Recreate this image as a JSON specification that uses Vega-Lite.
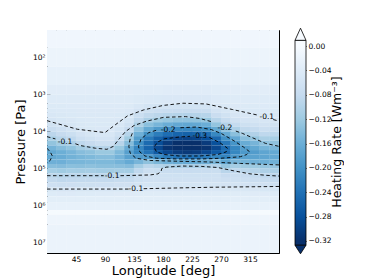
{
  "$schema": "https://vega.github.io/schema/vega-lite/v6.json",
  "padding": {"left": 13, "top": 26, "right": 0, "bottom": 0},
  "spacing": 13,
  "config": {
    "font": "DejaVu Sans",
    "view": {"stroke": null},
    "axis": {"domainColor": "black", "tickColor": "black", "labelColor": "black", "titleColor": "black", "grid": false, "titleFontWeight": "normal", "labelOverlap": false}
  },
  "datasets": {
    "grid": [
      {"y0": 1.27, "y1": 1.75, "lon": [7.5,22.5,37.5,52.5,67.5,82.5,97.5,112.5,127.5,142.5,157.5,172.5,187.5,202.5,217.5,232.5,247.5,262.5,277.5,292.5,307.5,322.5,337.5,352.5], "v": [-0.012,-0.012,-0.012,-0.012,-0.012,-0.012,-0.012,-0.012,-0.012,-0.012,-0.012,-0.012,-0.012,-0.012,-0.012,-0.012,-0.012,-0.012,-0.012,-0.012,-0.012,-0.012,-0.012,-0.012]},
      {"y0": 1.75, "y1": 2.25, "lon": [7.5,22.5,37.5,52.5,67.5,82.5,97.5,112.5,127.5,142.5,157.5,172.5,187.5,202.5,217.5,232.5,247.5,262.5,277.5,292.5,307.5,322.5,337.5,352.5], "v": [-0.018,-0.018,-0.018,-0.018,-0.018,-0.018,-0.018,-0.018,-0.018,-0.018,-0.018,-0.018,-0.018,-0.018,-0.018,-0.018,-0.018,-0.018,-0.018,-0.018,-0.018,-0.018,-0.018,-0.018]},
      {"y0": 2.25, "y1": 2.75, "lon": [7.5,22.5,37.5,52.5,67.5,82.5,97.5,112.5,127.5,142.5,157.5,172.5,187.5,202.5,217.5,232.5,247.5,262.5,277.5,292.5,307.5,322.5,337.5,352.5], "v": [-0.026,-0.026,-0.026,-0.026,-0.026,-0.026,-0.026,-0.026,-0.026,-0.026,-0.026,-0.026,-0.026,-0.026,-0.026,-0.026,-0.026,-0.026,-0.026,-0.026,-0.026,-0.026,-0.026,-0.026]},
      {"y0": 2.75, "y1": 3.0, "lon": [7.5,22.5,37.5,52.5,67.5,82.5,97.5,112.5,127.5,142.5,157.5,172.5,187.5,202.5,217.5,232.5,247.5,262.5,277.5,292.5,307.5,322.5,337.5,352.5], "v": [-0.034,-0.034,-0.034,-0.034,-0.034,-0.034,-0.034,-0.034,-0.034,-0.035,-0.036,-0.036,-0.037,-0.037,-0.037,-0.037,-0.037,-0.035,-0.034,-0.034,-0.034,-0.034,-0.034,-0.034]},
      {"y0": 3.0, "y1": 3.25, "lon": [7.5,22.5,37.5,52.5,67.5,82.5,97.5,112.5,127.5,142.5,157.5,172.5,187.5,202.5,217.5,232.5,247.5,262.5,277.5,292.5,307.5,322.5,337.5,352.5], "v": [-0.040,-0.040,-0.040,-0.040,-0.040,-0.040,-0.040,-0.040,-0.040,-0.043,-0.045,-0.046,-0.047,-0.047,-0.047,-0.047,-0.047,-0.042,-0.041,-0.040,-0.040,-0.040,-0.040,-0.040]},
      {"y0": 3.25, "y1": 3.375, "lon": [7.5,22.5,37.5,52.5,67.5,82.5,97.5,112.5,127.5,142.5,157.5,172.5,187.5,202.5,217.5,232.5,247.5,262.5,277.5,292.5,307.5,322.5,337.5,352.5], "v": [-0.043,-0.043,-0.042,-0.042,-0.042,-0.042,-0.042,-0.042,-0.043,-0.050,-0.056,-0.058,-0.060,-0.061,-0.061,-0.061,-0.060,-0.049,-0.046,-0.044,-0.043,-0.043,-0.042,-0.043]},
      {"y0": 3.375, "y1": 3.5, "lon": [7.5,22.5,37.5,52.5,67.5,82.5,97.5,112.5,127.5,142.5,157.5,172.5,187.5,202.5,217.5,232.5,247.5,262.5,277.5,292.5,307.5,322.5,337.5,352.5], "v": [-0.046,-0.045,-0.045,-0.044,-0.044,-0.044,-0.044,-0.044,-0.047,-0.059,-0.068,-0.072,-0.075,-0.077,-0.078,-0.077,-0.075,-0.059,-0.053,-0.048,-0.046,-0.046,-0.045,-0.046]},
      {"y0": 3.5, "y1": 3.625, "lon": [7.5,22.5,37.5,52.5,67.5,82.5,97.5,112.5,127.5,142.5,157.5,172.5,187.5,202.5,217.5,232.5,247.5,262.5,277.5,292.5,307.5,322.5,337.5,352.5], "v": [-0.050,-0.048,-0.046,-0.045,-0.045,-0.045,-0.045,-0.046,-0.051,-0.071,-0.085,-0.092,-0.097,-0.099,-0.100,-0.099,-0.097,-0.074,-0.063,-0.054,-0.050,-0.050,-0.048,-0.050]},
      {"y0": 3.625, "y1": 3.75, "lon": [7.5,22.5,37.5,52.5,67.5,82.5,97.5,112.5,127.5,142.5,157.5,172.5,187.5,202.5,217.5,232.5,247.5,262.5,277.5,292.5,307.5,322.5,337.5,352.5], "v": [-0.055,-0.051,-0.049,-0.046,-0.045,-0.045,-0.045,-0.047,-0.056,-0.086,-0.107,-0.118,-0.125,-0.130,-0.131,-0.130,-0.125,-0.096,-0.078,-0.064,-0.057,-0.055,-0.052,-0.055]},
      {"y0": 3.75, "y1": 3.875, "lon": [7.5,22.5,37.5,52.5,67.5,82.5,97.5,112.5,127.5,142.5,157.5,172.5,187.5,202.5,217.5,232.5,247.5,262.5,277.5,292.5,307.5,322.5,337.5,352.5], "v": [-0.063,-0.057,-0.053,-0.048,-0.046,-0.046,-0.046,-0.050,-0.065,-0.106,-0.135,-0.150,-0.161,-0.168,-0.170,-0.168,-0.161,-0.128,-0.100,-0.081,-0.068,-0.065,-0.059,-0.063]},
      {"y0": 3.875, "y1": 4.0, "lon": [7.5,22.5,37.5,52.5,67.5,82.5,97.5,112.5,127.5,142.5,157.5,172.5,187.5,202.5,217.5,232.5,247.5,262.5,277.5,292.5,307.5,322.5,337.5,352.5], "v": [-0.075,-0.067,-0.060,-0.051,-0.048,-0.047,-0.047,-0.056,-0.079,-0.131,-0.167,-0.188,-0.202,-0.211,-0.214,-0.211,-0.202,-0.167,-0.130,-0.105,-0.085,-0.081,-0.070,-0.075]},
      {"y0": 4.0, "y1": 4.125, "lon": [7.5,22.5,37.5,52.5,67.5,82.5,97.5,112.5,127.5,142.5,157.5,172.5,187.5,202.5,217.5,232.5,247.5,262.5,277.5,292.5,307.5,322.5,337.5,352.5], "v": [-0.091,-0.080,-0.071,-0.059,-0.053,-0.050,-0.050,-0.065,-0.097,-0.157,-0.200,-0.226,-0.244,-0.255,-0.259,-0.255,-0.244,-0.211,-0.166,-0.135,-0.109,-0.102,-0.087,-0.092]},
      {"y0": 4.125, "y1": 4.25, "lon": [7.5,22.5,37.5,52.5,67.5,82.5,97.5,112.5,127.5,142.5,157.5,172.5,187.5,202.5,217.5,232.5,247.5,262.5,277.5,292.5,307.5,322.5,337.5,352.5], "v": [-0.110,-0.096,-0.087,-0.070,-0.063,-0.057,-0.057,-0.078,-0.119,-0.183,-0.229,-0.259,-0.281,-0.294,-0.298,-0.294,-0.281,-0.251,-0.201,-0.168,-0.136,-0.127,-0.109,-0.111]},
      {"y0": 4.25, "y1": 4.375, "lon": [7.5,22.5,37.5,52.5,67.5,82.5,97.5,112.5,127.5,142.5,157.5,172.5,187.5,202.5,217.5,232.5,247.5,262.5,277.5,292.5,307.5,322.5,337.5,352.5], "v": [-0.129,-0.115,-0.105,-0.087,-0.079,-0.070,-0.070,-0.095,-0.140,-0.203,-0.248,-0.282,-0.306,-0.321,-0.325,-0.321,-0.306,-0.280,-0.231,-0.196,-0.163,-0.151,-0.132,-0.131]},
      {"y0": 4.375, "y1": 4.5, "lon": [7.5,22.5,37.5,52.5,67.5,82.5,97.5,112.5,127.5,142.5,157.5,172.5,187.5,202.5,217.5,232.5,247.5,262.5,277.5,292.5,307.5,322.5,337.5,352.5], "v": [-0.153,-0.140,-0.130,-0.114,-0.107,-0.096,-0.096,-0.122,-0.164,-0.214,-0.255,-0.290,-0.315,-0.330,-0.335,-0.330,-0.315,-0.290,-0.248,-0.213,-0.183,-0.169,-0.152,-0.148]},
      {"y0": 4.5, "y1": 4.625, "lon": [7.5,22.5,37.5,52.5,67.5,82.5,97.5,112.5,127.5,142.5,157.5,172.5,187.5,202.5,217.5,232.5,247.5,262.5,277.5,292.5,307.5,322.5,337.5,352.5], "v": [-0.169,-0.159,-0.150,-0.138,-0.133,-0.122,-0.122,-0.145,-0.180,-0.212,-0.236,-0.267,-0.290,-0.304,-0.308,-0.304,-0.290,-0.267,-0.246,-0.212,-0.190,-0.185,-0.173,-0.167]},
      {"y0": 4.625, "y1": 4.75, "lon": [7.5,22.5,37.5,52.5,67.5,82.5,97.5,112.5,127.5,142.5,157.5,172.5,187.5,202.5,217.5,232.5,247.5,262.5,277.5,292.5,307.5,322.5,337.5,352.5], "v": [-0.169,-0.163,-0.155,-0.149,-0.145,-0.139,-0.139,-0.154,-0.180,-0.188,-0.187,-0.211,-0.228,-0.238,-0.241,-0.238,-0.228,-0.211,-0.217,-0.188,-0.179,-0.177,-0.173,-0.167]},
      {"y0": 4.75, "y1": 4.875, "lon": [7.5,22.5,37.5,52.5,67.5,82.5,97.5,112.5,127.5,142.5,157.5,172.5,187.5,202.5,217.5,232.5,247.5,262.5,277.5,292.5,307.5,322.5,337.5,352.5], "v": [-0.158,-0.158,-0.150,-0.149,-0.146,-0.145,-0.145,-0.153,-0.166,-0.150,-0.133,-0.147,-0.158,-0.164,-0.166,-0.164,-0.158,-0.147,-0.172,-0.150,-0.152,-0.157,-0.159,-0.156]},
      {"y0": 4.875, "y1": 5.0, "lon": [7.5,22.5,37.5,52.5,67.5,82.5,97.5,112.5,127.5,142.5,157.5,172.5,187.5,202.5,217.5,232.5,247.5,262.5,277.5,292.5,307.5,322.5,337.5,352.5], "v": [-0.138,-0.141,-0.135,-0.136,-0.133,-0.136,-0.136,-0.137,-0.141,-0.113,-0.092,-0.099,-0.104,-0.107,-0.108,-0.107,-0.104,-0.099,-0.127,-0.113,-0.119,-0.120,-0.127,-0.128]},
      {"y0": 5.0, "y1": 5.125, "lon": [7.5,22.5,37.5,52.5,67.5,82.5,97.5,112.5,127.5,142.5,157.5,172.5,187.5,202.5,217.5,232.5,247.5,262.5,277.5,292.5,307.5,322.5,337.5,352.5], "v": [-0.113,-0.118,-0.113,-0.114,-0.112,-0.115,-0.115,-0.112,-0.113,-0.086,-0.070,-0.073,-0.075,-0.076,-0.077,-0.076,-0.075,-0.073,-0.094,-0.086,-0.092,-0.097,-0.105,-0.108]},
      {"y0": 5.125, "y1": 5.25, "lon": [7.5,22.5,37.5,52.5,67.5,82.5,97.5,112.5,127.5,142.5,157.5,172.5,187.5,202.5,217.5,232.5,247.5,262.5,277.5,292.5,307.5,322.5,337.5,352.5], "v": [-0.092,-0.097,-0.094,-0.094,-0.092,-0.094,-0.094,-0.090,-0.090,-0.073,-0.064,-0.065,-0.066,-0.066,-0.066,-0.066,-0.066,-0.065,-0.077,-0.073,-0.077,-0.083,-0.088,-0.093]},
      {"y0": 5.25, "y1": 5.375, "lon": [7.5,22.5,37.5,52.5,67.5,82.5,97.5,112.5,127.5,142.5,157.5,172.5,187.5,202.5,217.5,232.5,247.5,262.5,277.5,292.5,307.5,322.5,337.5,352.5], "v": [-0.082,-0.086,-0.084,-0.083,-0.082,-0.082,-0.082,-0.078,-0.078,-0.068,-0.064,-0.064,-0.064,-0.064,-0.064,-0.064,-0.064,-0.064,-0.069,-0.068,-0.070,-0.074,-0.078,-0.082]},
      {"y0": 5.375, "y1": 5.5, "lon": [7.5,22.5,37.5,52.5,67.5,82.5,97.5,112.5,127.5,142.5,157.5,172.5,187.5,202.5,217.5,232.5,247.5,262.5,277.5,292.5,307.5,322.5,337.5,352.5], "v": [-0.067,-0.070,-0.069,-0.068,-0.068,-0.067,-0.067,-0.064,-0.064,-0.058,-0.056,-0.056,-0.056,-0.056,-0.056,-0.056,-0.056,-0.056,-0.059,-0.058,-0.059,-0.062,-0.064,-0.068]},
      {"y0": 5.5, "y1": 5.625, "lon": [7.5,22.5,37.5,52.5,67.5,82.5,97.5,112.5,127.5,142.5,157.5,172.5,187.5,202.5,217.5,232.5,247.5,262.5,277.5,292.5,307.5,322.5,337.5,352.5], "v": [-0.053,-0.055,-0.054,-0.053,-0.053,-0.052,-0.052,-0.051,-0.051,-0.048,-0.047,-0.047,-0.047,-0.047,-0.047,-0.047,-0.047,-0.047,-0.048,-0.048,-0.048,-0.049,-0.051,-0.053]},
      {"y0": 5.625, "y1": 5.75, "lon": [7.5,22.5,37.5,52.5,67.5,82.5,97.5,112.5,127.5,142.5,157.5,172.5,187.5,202.5,217.5,232.5,247.5,262.5,277.5,292.5,307.5,322.5,337.5,352.5], "v": [-0.041,-0.042,-0.042,-0.041,-0.041,-0.040,-0.040,-0.039,-0.039,-0.038,-0.038,-0.038,-0.038,-0.038,-0.038,-0.038,-0.038,-0.038,-0.038,-0.038,-0.038,-0.039,-0.039,-0.041]},
      {"y0": 5.75, "y1": 5.9, "lon": [7.5,22.5,37.5,52.5,67.5,82.5,97.5,112.5,127.5,142.5,157.5,172.5,187.5,202.5,217.5,232.5,247.5,262.5,277.5,292.5,307.5,322.5,337.5,352.5], "v": [-0.033,-0.033,-0.033,-0.033,-0.033,-0.033,-0.033,-0.033,-0.033,-0.033,-0.033,-0.033,-0.033,-0.033,-0.033,-0.033,-0.033,-0.033,-0.033,-0.033,-0.033,-0.033,-0.033,-0.033]},
      {"y0": 5.9, "y1": 6.12, "lon": [7.5,22.5,37.5,52.5,67.5,82.5,97.5,112.5,127.5,142.5,157.5,172.5,187.5,202.5,217.5,232.5,247.5,262.5,277.5,292.5,307.5,322.5,337.5,352.5], "v": [-0.025,-0.025,-0.025,-0.025,-0.025,-0.025,-0.025,-0.025,-0.025,-0.025,-0.025,-0.025,-0.025,-0.025,-0.025,-0.025,-0.025,-0.025,-0.025,-0.025,-0.025,-0.025,-0.025,-0.025]},
      {"y0": 6.12, "y1": 6.24, "lon": [7.5,22.5,37.5,52.5,67.5,82.5,97.5,112.5,127.5,142.5,157.5,172.5,187.5,202.5,217.5,232.5,247.5,262.5,277.5,292.5,307.5,322.5,337.5,352.5], "v": [-0.003,-0.003,-0.003,-0.003,-0.003,-0.003,-0.003,-0.003,-0.003,-0.003,-0.003,-0.003,-0.003,-0.003,-0.003,-0.003,-0.003,-0.003,-0.003,-0.003,-0.003,-0.003,-0.003,-0.003]},
      {"y0": 6.24, "y1": 6.5, "lon": [7.5,22.5,37.5,52.5,67.5,82.5,97.5,112.5,127.5,142.5,157.5,172.5,187.5,202.5,217.5,232.5,247.5,262.5,277.5,292.5,307.5,322.5,337.5,352.5], "v": [-0.015,-0.015,-0.015,-0.015,-0.015,-0.015,-0.015,-0.015,-0.015,-0.015,-0.015,-0.015,-0.015,-0.015,-0.015,-0.015,-0.015,-0.015,-0.015,-0.015,-0.015,-0.015,-0.015,-0.015]},
      {"y0": 6.5, "y1": 7.27, "lon": [7.5,22.5,37.5,52.5,67.5,82.5,97.5,112.5,127.5,142.5,157.5,172.5,187.5,202.5,217.5,232.5,247.5,262.5,277.5,292.5,307.5,322.5,337.5,352.5], "v": [-0.02,-0.02,-0.02,-0.02,-0.02,-0.02,-0.02,-0.02,-0.02,-0.02,-0.02,-0.02,-0.02,-0.02,-0.02,-0.02,-0.02,-0.02,-0.02,-0.02,-0.02,-0.02,-0.02,-0.02]}
    ],
    "cont": [
      {"id": "A1", "lon": [0,47,90,106,125,150,180,211,247,288,327], "lp": [3.71,3.94,4.03,3.82,3.58,3.42,3.3,3.24,3.26,3.41,3.56]},
      {"id": "A2", "lon": [351,360], "lp": [3.68,3.72]},
      {"id": "B1", "lon": [0,13], "lp": [4.14,4.2]},
      {"id": "B2", "lon": [44,52,75,93,103,112,122,135,155,181,215,237,258], "lp": [4.33,4.38,4.45,4.48,4.4,4.2,4.0,3.84,3.72,3.62,3.6,3.65,3.75]},
      {"id": "B3", "lon": [293,303,339,360], "lp": [3.99,4.05,4.32,4.4]},
      {"id": "L3", "lon": [207,232,255,270,290,305,314,310,300,270,240,200,170,152,144,142,146,158,173], "lp": [3.9,3.88,3.95,4.05,4.25,4.42,4.54,4.62,4.68,4.72,4.74,4.74,4.72,4.66,4.55,4.4,4.2,4.03,3.95]},
      {"id": "L4", "lon": [252,268,280,278,265,237,205,182,170,166,172,182,205,222], "lp": [4.16,4.3,4.45,4.55,4.62,4.66,4.66,4.62,4.55,4.42,4.28,4.2,4.15,4.13]},
      {"id": "L2", "lon": [360,300,250,200,160,138,129,127,129,133], "lp": [4.9,4.86,4.82,4.8,4.78,4.72,4.58,4.4,4.2,4.02]},
      {"id": "W1", "lon": [0,88], "lp": [5.19,5.19]},
      {"id": "W2", "lon": [114,160,172,177,178,185,210,240,265,290,315,340,360], "lp": [5.19,5.17,5.14,5.08,5.0,4.96,4.93,4.94,4.97,5.06,5.14,5.18,5.2]},
      {"id": "Z1", "lon": [0,127], "lp": [5.55,5.55]},
      {"id": "Z2", "lon": [150,200,260,360], "lp": [5.54,5.52,5.5,5.48]},
      {"id": "S", "lon": [0,5,8,5,0], "lp": [4.45,4.55,4.65,4.78,4.85]}
    ],
    "labs": [
      {"lon": 341, "lp": 3.61, "t": "-0.1"},
      {"lon": 28, "lp": 4.29, "t": "-0.1"},
      {"lon": 188, "lp": 3.95, "t": "-0.2"},
      {"lon": 237, "lp": 4.13, "t": "-0.3"},
      {"lon": 276, "lp": 3.91, "t": "-0.2"},
      {"lon": 101, "lp": 5.2, "t": "-0.1"},
      {"lon": 138, "lp": 5.56, "t": "-0.1"}
    ]
  },
  "hconcat": [
    {
      "width": 232,
      "height": 223,
      "view": {"stroke": "black", "strokeWidth": 1},
      "layer": [
        {
          "data": {"name": "grid"},
          "transform": [{"flatten": ["lon", "v"]}],
          "mark": {"type": "rect", "width": 10, "clip": true},
          "encoding": {
            "x": {"field": "lon", "type": "quantitative", "scale": {"domain": [0, 360], "nice": false, "zero": false},
                  "axis": {"values": [45, 90, 135, 180, 225, 270, 315], "tickCount": 50, "labelOverlap": false, "title": "Longitude [deg]", "titleFontSize": 13, "labelFontSize": 7.5, "tickSize": -3, "labelPadding": 5, "titlePadding": 2}},
            "y": {"field": "y0", "type": "quantitative", "scale": {"domain": [1.27, 7.27], "reverse": true, "nice": false, "zero": false},
                  "axis": {"values": [2, 3, 4, 5, 6, 7], "tickCount": 50, "labelOverlap": false, "labelExpr": "'10' + ['⁰','¹','²','³','⁴','⁵','⁶','⁷'][datum.value]", "title": "Pressure [Pa]", "titleFontSize": 13, "labelFontSize": 7.5, "tickSize": -3, "labelPadding": 5, "titlePadding": 5}},
            "y2": {"field": "y1"},
            "color": {"field": "v", "type": "quantitative", "legend": null,
                      "scale": {"domain": [-0.32, -0.28, -0.24, -0.2, -0.16, -0.12, -0.08, -0.04, 0], "range": ["#08306b", "#08519c", "#2171b5", "#4292c6", "#6baed6", "#9ecae1", "#c6dbef", "#deebf7", "#f7fbff"], "clamp": true}}
          }
        },
        {
          "data": {"name": "cont"},
          "transform": [{"flatten": ["lon", "lp"]}],
          "mark": {"type": "line", "strokeDash": [3.5, 2.5], "color": "black", "strokeWidth": 0.9, "clip": true},
          "encoding": {
            "x": {"field": "lon", "type": "quantitative"},
            "y": {"field": "lp", "type": "quantitative"},
            "detail": {"field": "id"},
            "order": {"value": null}
          }
        },
        {
          "data": {"name": "labs"},
          "mark": {"type": "text", "fontSize": 7.5, "color": "black", "align": "center", "baseline": "middle"},
          "encoding": {
            "x": {"field": "lon", "type": "quantitative"},
            "y": {"field": "lp", "type": "quantitative"},
            "text": {"field": "t"}
          }
        }
      ]
    },
    {
      "width": 11,
      "height": 223,
      "data": {"values": [{}]},
      "layer": [
        {
          "mark": {"type": "rect", "stroke": "black", "strokeWidth": 0.8,
                   "fill": {"gradient": "linear", "x1": 0, "y1": 0, "x2": 0, "y2": 1,
                            "stops": [{"offset": 0, "color": "#f7fbff"}, {"offset": 0.028, "color": "#f7fbff"}, {"offset": 0.147, "color": "#deebf7"}, {"offset": 0.266, "color": "#c6dbef"}, {"offset": 0.385, "color": "#9ecae1"}, {"offset": 0.504, "color": "#6baed6"}, {"offset": 0.622, "color": "#4292c6"}, {"offset": 0.741, "color": "#2171b5"}, {"offset": 0.86, "color": "#08519c"}, {"offset": 0.979, "color": "#08306b"}, {"offset": 1, "color": "#08306b"}]}},
          "encoding": {
            "x": {"datum": 0, "type": "quantitative", "scale": {"domain": [0, 1], "nice": false, "zero": false}, "axis": null},
            "x2": {"datum": 1},
            "y": {"datum": 0.0094, "type": "quantitative", "scale": {"domain": [-0.3397, 0.0263], "nice": false, "zero": false},
                  "axis": {"orient": "right", "values": [0, -0.04, -0.08, -0.12, -0.16, -0.2, -0.24, -0.28, -0.32], "tickCount": 50, "labelOverlap": false, "format": ".2f", "labelFontSize": 7.5, "tickSize": -3, "labelPadding": 5, "domain": false, "title": "Heating Rate [Wm⁻³]", "titleFontSize": 12.5, "titleAngle": 270, "titlePadding": 13}},
            "y2": {"datum": -0.327}
          }
        },
        {
          "mark": {"type": "point", "shape": "M-1,0L0,-2.2L1,0Z", "size": 121, "filled": true, "fill": "#f7fbff", "stroke": "black", "strokeWidth": 0.8, "opacity": 1},
          "encoding": {
            "x": {"datum": 0.5, "type": "quantitative"},
            "y": {"datum": 0.0094, "type": "quantitative"}
          }
        },
        {
          "mark": {"type": "point", "shape": "M-1,0L0,1.55L1,0Z", "size": 121, "filled": true, "fill": "#08306b", "stroke": "black", "strokeWidth": 0.8, "opacity": 1},
          "encoding": {
            "x": {"datum": 0.5, "type": "quantitative"},
            "y": {"datum": -0.327, "type": "quantitative"}
          }
        }
      ]
    }
  ]
}
